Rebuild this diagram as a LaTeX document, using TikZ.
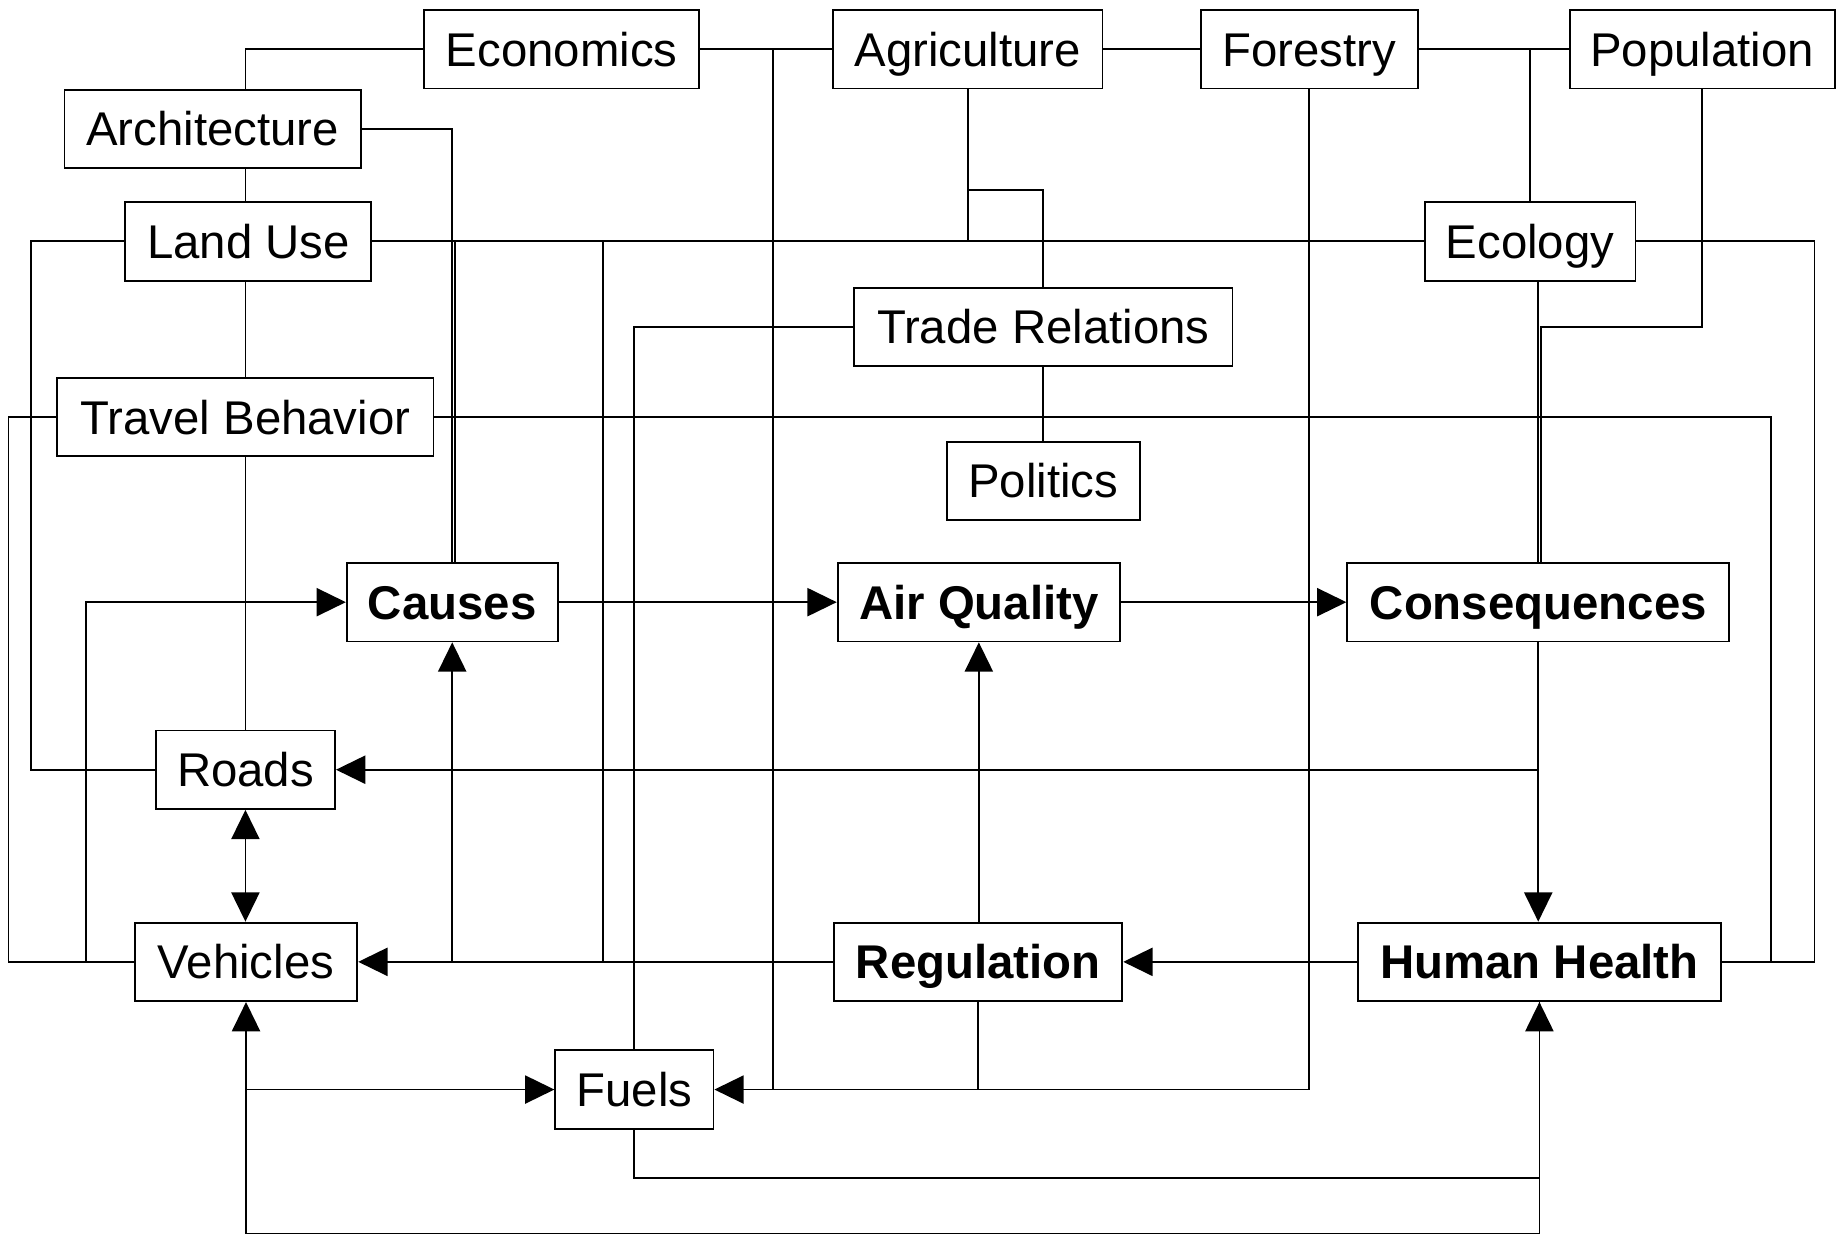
\documentclass[tikz,border=0pt]{standalone}
\usepackage{fontspec}
\setmainfont{Liberation Sans}
\usetikzlibrary{arrows.meta}

\begin{document}
\begin{tikzpicture}[x=0.1mm, y=0.1mm, line width=0.45pt]
\tikzstyle{every node}+=[inner sep=0pt]
\tikzstyle{box}=[draw, fill=white, minimum height=6.7mm, text height=2.9mm, text depth=0pt, font=\fontsize{11.5}{13}\selectfont]
\tikzstyle{key}=[box, font=\fontsize{11.5}{13}\selectfont\bfseries]
\tikzstyle{arr}=[-{Triangle[length=2.5mm,width=2.4mm]}]
\tikzstyle{arrs}=[{Triangle[length=2.5mm,width=2.4mm]}-{Triangle[length=2.5mm,width=2.4mm]}]
\fill [white] (0,0) rectangle (1568,-1053);
\useasboundingbox (0,0) rectangle (1568,-1053);
% lines first, boxes on top
\coordinate (luv) at (515,-206);
\coordinate (ecf) at (660,-42);
\draw (ecf) -- (ecf |- 0,-930);
\draw (luv) -- (luv |- 0,-821);
\path (479.5,-42) node [box, minimum width=23.5mm] (econ) {Economics};
\path (826,-42) node [box, minimum width=23mm] (agr) {Agriculture};
\path (1117.5,-42) node [box, minimum width=18.5mm] (forest) {Forestry};
\path (1453,-42) node [box, minimum width=22.6mm] (pop) {Population};
\path (181.5,-110) node [box, minimum width=25.3mm] (arch) {Architecture};
\path (212,-206) node [box, minimum width=21mm] (lu) {Land Use};
\path (1306,-206) node [box, minimum width=18mm] (eco) {Ecology};
\path (890.5,-279) node [box, minimum width=32.3mm] (trade) {Trade Relations};
\path (209.5,-356) node [box, minimum width=32.1mm] (travel) {Travel Behavior};
\path (890.5,-410.5) node [box, minimum width=16.5mm] (pol) {Politics};
\path (386,-514) node [key, minimum width=18mm] (cause) {Causes};
\path (835.5,-514) node [key, minimum width=24.1mm] (aq) {Air Quality};
\path (1313,-514) node [key, minimum width=32.6mm] (cons) {Consequences};
\path (209.5,-657) node [box, minimum width=15.3mm] (roads) {Roads};
\path (210,-821) node [box, minimum width=19mm] (veh) {Vehicles};
\path (835,-821) node [key, minimum width=24.6mm] (reg) {Regulation};
\path (1314,-821) node [key, minimum width=31mm] (hh) {Human Health};
\path (541.5,-930) node [box, minimum width=13.5mm] (fuel) {Fuels};
% top row
\draw (econ.west) -| (arch.north -| travel.north);
\draw (econ.east) -- (agr.west);
\draw (agr.east) -- (forest.west);
\draw (forest.east) -- (pop.west);
\draw (eco.north |- pop.west) -- (eco.north);
\draw (agr.south) |- (eco.west);
\draw (agr.south) -- ++(0,-86) -| (trade.north);
\draw (trade.south) -- (pol.north);
\draw (trade.west) -| (fuel.north);
% left column
\draw (arch.south -| travel.north) -- (lu.north -| travel.north);
\draw (lu.south -| travel.north) -- (travel.north);
\draw (travel.south) -- (roads.north);
\draw [arrs] (roads.south) -- (roads.south |- veh.north);
\draw (arch.east) -| (cause.north);
\draw (lu.east) -- (eco.west);
\draw ([xshift=0.25mm]cause.north) -- ([xshift=0.25mm]cause.north |- lu.east);
\draw (lu.west) -- ++(-80,0) |- (roads.west);
\draw (travel.west) -- ++(-41,0) |- (veh.west);
\draw [arr] (veh.west) -- ++(-41,0) |- (cause.west);
% main chain
\draw [arr] (cause.east) -- (aq.west);
\draw [arr] (aq.east) -- (cons.west);
\draw [arr] (cons.south) -- (hh.north -| cons.south);
\draw [arr] (reg.north) -- (aq.south |- reg.north) -- (aq.south);
\draw [arr] (hh.west) -- (reg.east);
\draw [arr] (reg.west) -- (veh.east);
\draw [arr] (cause.south |- veh.east) -- (cause.south);
\draw [arr] (cons.south |- roads.east) -- (roads.east);
% right side
\draw (eco.south -| cons.north) -- (cons.north);
\draw (pop.south) -- ++(0,-203) -| ([xshift=0.2mm]cons.north);
\draw (travel.east) -- ++(1141,0) |- (hh.east);
\draw (eco.east) -- ++(152,0) |- (hh.east);
% fuels
\draw [arr] (forest.south) |- (fuel.east);
\draw (reg.south) -- (reg.south |- fuel.east);
\draw [arr] (veh.south |- fuel.west) -- (fuel.west);
\draw [arrs] (veh.south) -- ++(0,-198) -| (hh.south);
\draw (fuel.south) -- ++(0,-41) -| (hh.south);
\end{tikzpicture}
\end{document}
